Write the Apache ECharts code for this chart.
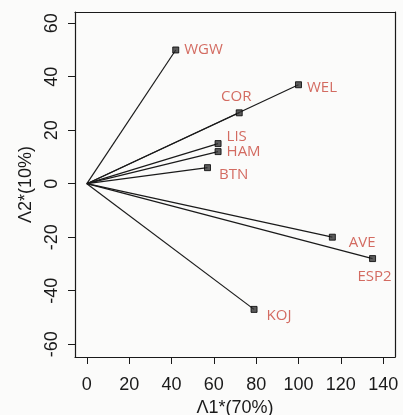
<!DOCTYPE html>
<html>
<head>
<meta charset="utf-8">
<script src="https://cdn.jsdelivr.net/npm/echarts@6/dist/echarts.min.js"></script>
<style>
  html, body { margin: 0; padding: 0; background: #fbfbfa; }
  #main { width: 403px; height: 415px; }
</style>
</head>
<body>
<div id="main"></div>
<script>
  // site loadings
  const names = ['WGW', 'WEL', 'COR', 'LIS', 'HAM', 'BTN', 'AVE', 'ESP2', 'KOJ']
  const lambda1 = [42, 100, 72, 62, 62, 57, 116, 135, 79]
  const lambda2 = [50, 37, 26.5, 15, 12, 6, -20, -28, -47]
  const xTicks = [0, 20, 40, 60, 80, 100, 120, 140]
  const yTicks = [-60, -40, -20, 0, 20, 40, 60]

  // where each label sits next to its point
  const labelPos = {
    WGW: { position: 'right', offset: [0, 0] },
    WEL: { position: 'right', offset: [0, 3] },
    COR: { position: 'top', offset: [-3, 0] },
    LIS: { position: 'right', offset: [0, -7] },
    HAM: { position: 'right', offset: [0, 0] },
    BTN: { position: 'right', offset: [3, 7] },
    AVE: { position: 'right', offset: [8, 6] },
    ESP2: { position: 'bottom', offset: [2, 2] },
    KOJ: { position: 'right', offset: [4, 6] }
  }

  const ink = '#1a1a1a'
  const font = 'Liberation Sans, Arial'
  const boxLine = { show: true, onZero: false, lineStyle: { color: ink, width: 1.2 } }

  let series = []
  for (let i = 0; i < names.length; i++) {
    series.push({
      type: 'line',
      data: [[0, 0], [lambda1[i], lambda2[i]]],
      symbol: 'none',
      lineStyle: { color: ink, width: 1.2 },
      silent: true,
      z: 2
    })
  }
  series.push({
    type: 'scatter',
    symbol: 'rect',
    symbolSize: 6,
    itemStyle: { color: '#333', borderColor: '#000', borderWidth: 1 },
    data: names.map((n, i) => ({
      value: [lambda1[i], lambda2[i]],
      name: n,
      label: {
        show: true,
        formatter: n,
        position: labelPos[n].position,
        offset: labelPos[n].offset,
        distance: 5
      }
    })),
    label: {
      color: '#c9473b',
      fontSize: 15,
      fontFamily: 'Open Sans, sans-serif'
    },
    z: 3
  })

  let myChart = echarts.init(document.getElementById('main'))
  myChart.setOption({
    backgroundColor: '#fbfbfa',
    animation: false,
    grid: {
      left: 75,
      right: 8,
      top: 12,
      bottom: 58,
      containLabel: false,
      outerBoundsMode: 'none'
    },
    xAxis: [{
      type: 'value',
      min: -5.6,
      max: 145.6,
      name: 'Λ1*(70%)',
      nameLocation: 'middle',
      nameGap: 41,
      nameTextStyle: { color: ink, fontSize: 18, fontFamily: font },
      axisLine: boxLine,
      splitLine: { show: false },
      axisTick: { show: true, length: 7, lineStyle: { color: ink }, customValues: xTicks },
      axisLabel: { color: ink, fontSize: 18, margin: 19, fontFamily: font, customValues: xTicks }
    }, {
      type: 'value',
      position: 'top',
      min: -5.6,
      max: 145.6,
      axisLine: boxLine,
      axisTick: { show: false },
      axisLabel: { show: false },
      splitLine: { show: false }
    }],
    yAxis: [{
      type: 'value',
      min: -64.8,
      max: 64.2,
      name: 'Λ2*(10%)',
      nameLocation: 'middle',
      nameRotate: 90,
      nameGap: 38,
      nameTextStyle: { color: ink, fontSize: 18, fontFamily: font },
      axisLine: boxLine,
      splitLine: { show: false },
      axisTick: { show: true, length: 7, lineStyle: { color: ink }, customValues: yTicks },
      axisLabel: { color: ink, fontSize: 18, margin: 14, rotate: 90, fontFamily: font, customValues: yTicks }
    }, {
      type: 'value',
      position: 'right',
      min: -64.8,
      max: 64.2,
      axisLine: boxLine,
      axisTick: { show: false },
      axisLabel: { show: false },
      splitLine: { show: false }
    }],
    series: series
  })
</script>
</body>
</html>
